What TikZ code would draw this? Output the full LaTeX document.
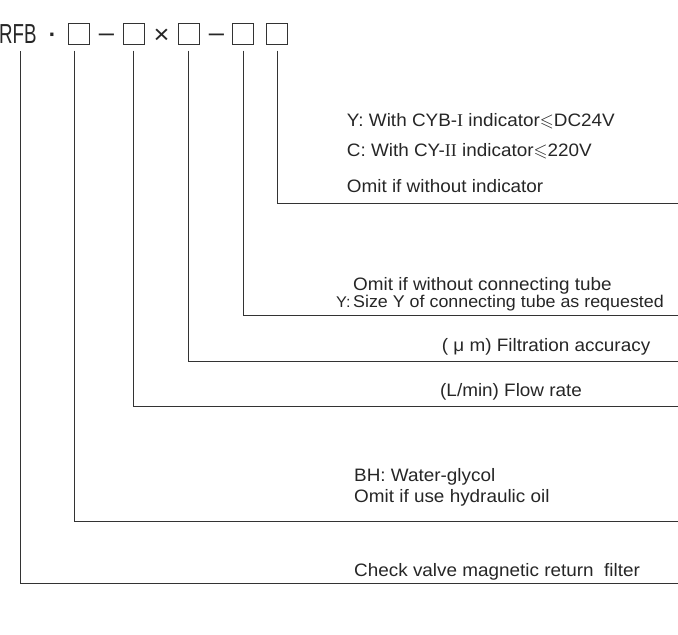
\documentclass[tikz,border=0pt]{standalone}
\usepackage{amssymb}
\usepackage{fontspec}
\setmainfont{Liberation Sans}[FakeStretch=1.05]
\newfontfamily\romfont{Liberation Serif}
\newfontfamily\codefont{Liberation Sans}[FakeStretch=0.68]
\usetikzlibrary{positioning}

\tikzset{
  lbl/.style={anchor=base west,inner sep=0pt,text=black!85,font=\fontsize{18}{20}\selectfont},
  codebox/.style={draw=black!80,line width=0.8pt,minimum size=21pt,inner sep=0pt},
  codesym/.style={inner sep=0pt,text=black!85,font=\fontsize{26}{30}\selectfont},
  lead/.style={draw=black!80,line width=0.9pt}
}

\begin{document}
\begin{tikzpicture}[x=1pt,y=-1pt]
\useasboundingbox (0,0) rectangle (678,635);

% model code
\node[codesym,font=\codefont\fontsize{27.5}{30}\selectfont,anchor=base east] (rfb) at (36.7,43.8) {RFB};
\node[codesym,font=\fontsize{32}{32}\selectfont] (dot) at (52,38) {·};
\node[codebox] (b1) at (78.8,33.7) {};
\node[codesym] (d1) at (106.5,37.5) {–};
\node[codebox] (b2) at (133.7,33.7) {};
\node[codesym] (x1) at (161.5,36.5) {×};
\node[codebox] (b3) at (188.5,33.7) {};
\node[codesym] (d2) at (216.5,37.5) {–};
\node[codebox] (b4) at (243.3,33.7) {};
\node[codebox] (b5) at (277,33.7) {};

% right ends
\coordinate (e5) at (678,203);
\coordinate (e4) at (678,315);
\coordinate (e3) at (678,361.7);
\coordinate (e2) at (678,406.7);
\coordinate (e1) at (678,521);
\coordinate (e0) at (678,583);

\node[lbl] (y1) at (346.7,126.5) {Y: With CY{B-\romfont I} indicator$\leqslant$DC24V};
\node[lbl] (c1) at (346.7,156.7) {C: With CY-{\romfont II} indicator$\leqslant$220V};
\node[lbl] (o1) at (346.7,192) {Omit if without indicator};

\node[lbl] (o2) at (353,290.5) {Omit if without connecting tube};
\node[lbl,font=\fontsize{17}{20}\selectfont] (s2) at (353,307) {\llap{\fontsize{15.5}{15}\selectfont Y:\,}Size Y of connecting tube as requested};

\node[lbl] (a3) at (441.7,351.7) {( μ m) Filtration accuracy};
\node[lbl] (f3) at (440,396.7) {(L/min) Flow rate};

\node[lbl] (bh) at (354,481.7) {BH: Water-glycol};
\node[lbl] (o4) at (354,502.5) {Omit if use hydraulic oil};
\node[lbl] (ck) at (354,576.7) {Check valve magnetic return\ \ filter};

\draw[lead] ([yshift=-6pt]b5.south) |- (e5);
\draw[lead] ([yshift=-6pt]b4.south) |- (e4);
\draw[lead] ([yshift=-6pt]b3.south) |- (e3);
\draw[lead] ([yshift=-6pt]b2.south) |- (e2);
\draw[lead] ([xshift=-4.8pt,yshift=-6pt]b1.south) |- (e1);
\draw[lead] ([xshift=-16pt,yshift=-7.2pt]rfb.base east) |- (e0);

\end{tikzpicture}
\end{document}
